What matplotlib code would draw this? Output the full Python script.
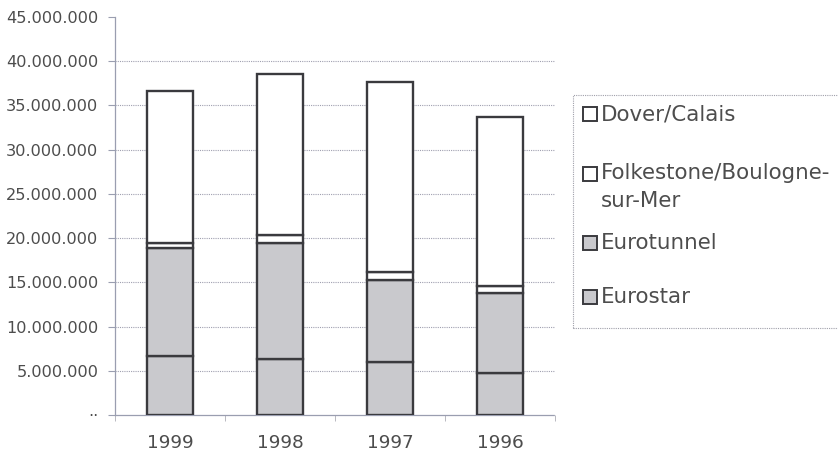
import matplotlib.pyplot as plt
from matplotlib.patches import Rectangle
from matplotlib.ticker import FuncFormatter

plt.rcParams['font.family'] = ['DejaVu Sans']

# passenger numbers per crossing
years = ['1999', '1998', '1997', '1996']
eurostar = [6_700_000, 6_300_000, 5_950_000, 4_800_000]
eurotunnel = [12_200_000, 13_200_000, 9_350_000, 8_950_000]
folkestone = [600_000, 900_000, 900_000, 850_000]
dover = [17_100_000, 18_100_000, 21_400_000, 19_100_000]
yticks = [0, 5_000_000, 10_000_000, 15_000_000, 20_000_000,
          25_000_000, 30_000_000, 35_000_000, 40_000_000, 45_000_000]

series = [
    ('Eurostar', eurostar, '#c9c9cd'),
    ('Eurotunnel', eurotunnel, '#c9c9cd'),
    ('Folkestone/Boulogne-\nsur-Mer', folkestone, '#ffffff'),
    ('Dover/Calais', dover, '#ffffff'),
]

text_col = '#4d4d4d'
axis_col = '#9a9eb0'
edge_col = '#3a3a3e'

fig = plt.figure(figsize=(8.38, 4.59), dpi=100)
ax = fig.add_axes([115 / 838, 1 - 415 / 459, 440 / 838, 398 / 459])

x = list(range(len(years)))
bottom = [0] * len(years)
for name, vals, col in series:
    ax.bar(x, vals, width=0.42, bottom=bottom, color=col, edgecolor=edge_col,
           linewidth=1.7, zorder=3)
    bottom = [b + v for b, v in zip(bottom, vals)]

ax.set_xlim(-0.5, len(years) - 0.5)
ax.set_ylim(0, 45_000_000)
ax.set_yticks(yticks)


def fmt(v, pos):
    if v == 0:
        return '··'
    return f'{int(v):,}'.replace(',', '.')


ax.yaxis.set_major_formatter(FuncFormatter(fmt))
ax.set_xticks(x)
ax.set_xticklabels(years)
ax.set_xticks([i - 0.5 for i in range(len(years) + 1)], minor=True)
ax.tick_params(axis='x', which='major', length=0, pad=14, labelsize=13.3, labelcolor=text_col)
ax.tick_params(axis='x', which='minor', length=4, color='#b8b8c0', width=0.7)
ax.tick_params(axis='y', length=5, color=axis_col, width=0.8, labelsize=11.6,
               labelcolor=text_col, pad=7)

ax.yaxis.grid(True, linestyle=(0, (1, 1)), color='#a0a0b0', linewidth=0.8, zorder=0)
for t, gl in zip(yticks, ax.yaxis.get_gridlines()):
    if t in (0, 45_000_000):
        gl.set_visible(False)

for s in ['top', 'right']:
    ax.spines[s].set_visible(False)
ax.spines['left'].set_color(axis_col)
ax.spines['left'].set_linewidth(0.9)
ax.spines['bottom'].set_color(axis_col)
ax.spines['bottom'].set_linestyle((0, (1, 1)))
ax.spines['bottom'].set_linewidth(0.9)

# legend, drawn by hand in figure pixels
W, H = 838, 459
fig.add_artist(Rectangle((573 / W, 1 - 328 / H), 280 / W, 233 / H, transform=fig.transFigure,
                         fill=False, edgecolor='#a0a0aa', linewidth=0.8,
                         linestyle=(0, (1, 1)), clip_on=False))
legend_rows = [(114, series[3]), (174, series[2]), (243, series[1]), (297, series[0])]
for yy, (name, vals, col) in legend_rows:
    fig.add_artist(Rectangle((583 / W, 1 - (yy + 7) / H), 14 / W, 14 / H,
                             transform=fig.transFigure, facecolor=col,
                             edgecolor=edge_col, linewidth=1.4))
    if '\n' in name:
        fig.text(601 / W, 1 - (yy - 11) / H, name, fontsize=15.4, color=text_col,
                 va='top', ha='left', linespacing=1.5)
    else:
        fig.text(601 / W, 1 - yy / H, name, fontsize=15.4, color=text_col,
                 va='center', ha='left')

fig.savefig('out.png', dpi=100)
